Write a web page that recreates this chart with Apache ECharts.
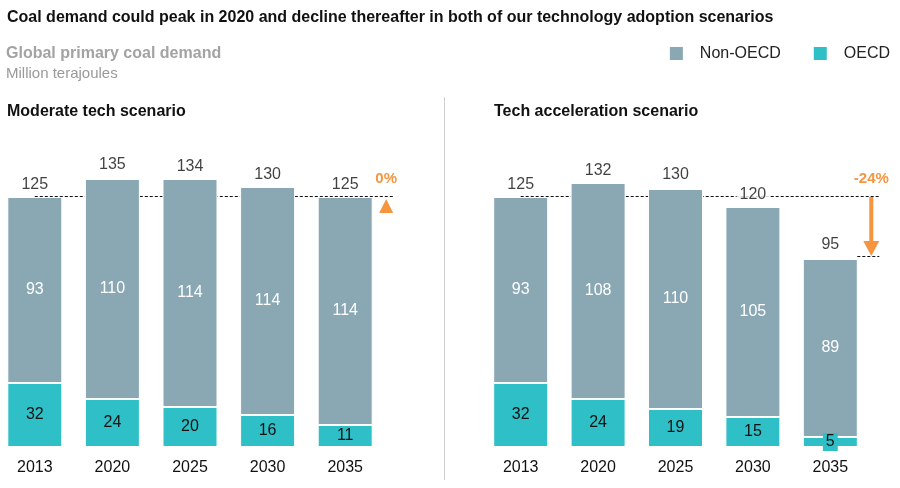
<!DOCTYPE html>
<html>
<head>
<meta charset="utf-8">
<script src="https://cdn.jsdelivr.net/npm/echarts@6/dist/echarts.min.js"></script>
<style>
  html, body { margin: 0; padding: 0; background: #fff; }
  #chartmain { width: 900px; height: 488px; }
</style>
</head>
<body>
<div id="chartmain"></div>
<script>
// data
const years = ['2013', '2020', '2025', '2030', '2035'];
const moderateNonOecd = [93, 110, 114, 114, 114];
const moderateOecd = [32, 24, 20, 16, 11];
const moderateTotal = [125, 135, 134, 130, 125];
const accelNonOecd = [93, 108, 110, 105, 89];
const accelOecd = [32, 24, 19, 15, 5];
const accelTotal = [125, 132, 130, 120, 95];
const changeLabels = ['0%', '-24%'];

{
    const FONT = '"Liberation Sans", Arial, sans-serif';
    const GREY = '#8aa8b3';
    const TEAL = '#2fbfc6';
    const ORANGE = '#f5953f';

    const dom = document.getElementById('chartmain');
    const chart = echarts.init(dom);

    function xAxis(gridIndex) {
        return {
            type: 'category',
            gridIndex: gridIndex,
            data: years,
            axisLine: { show: false },
            axisTick: { show: false },
            axisLabel: { color: '#111', fontSize: 16, fontFamily: FONT, margin: 13 }
        };
    }
    function yAxis(gridIndex) {
        return { type: 'value', gridIndex: gridIndex, min: 0, max: 150, show: false };
    }

    // 每个面板三个系列: OECD, Non-OECD, 合计标签
    function panel(idx, nonOecd, oecd, total) {
        return [
            {
                name: 'OECD',
                type: 'bar',
                stack: 'p' + idx,
                xAxisIndex: idx, yAxisIndex: idx,
                barWidth: 55,
                data: oecd,
                itemStyle: { color: TEAL, borderColor: '#fff', borderWidth: 1 },
                label: {
                    show: true, position: 'inside', color: '#111',
                    fontSize: 16, fontFamily: FONT,
                    backgroundColor: TEAL, padding: [1, 3]
                }
            },
            {
                name: 'Non-OECD',
                type: 'bar',
                stack: 'p' + idx,
                xAxisIndex: idx, yAxisIndex: idx,
                barWidth: 55,
                data: nonOecd,
                itemStyle: { color: GREY, borderColor: '#fff', borderWidth: 1 },
                label: {
                    show: true, position: 'inside', color: '#fff',
                    fontSize: 16, fontFamily: FONT
                }
            },
            {
                name: 'total' + idx,
                type: 'scatter',
                xAxisIndex: idx, yAxisIndex: idx,
                symbolSize: 1,
                itemStyle: { color: 'rgba(0,0,0,0)' },
                data: total,
                silent: true,
                label: {
                    show: true, position: 'top', distance: 4,
                    color: '#111', fontSize: 16, fontFamily: FONT,
                    backgroundColor: '#fff', padding: [0, 3]
                }
            }
        ];
    }

    const option = {
        animation: false,
        textStyle: { fontFamily: FONT },
        title: [
            {
                text: 'Coal demand could peak in 2020 and decline thereafter in both of our technology adoption scenarios',
                left: 2, top: 5,
                textStyle: { fontSize: 16, fontWeight: 'bold', color: '#111', fontFamily: FONT }
            },
            {
                text: 'Global primary coal demand',
                left: 1, top: 41,
                textStyle: { fontSize: 16, fontWeight: 'bold', color: '#a3a3a3', fontFamily: FONT }
            },
            {
                text: 'Million terajoules',
                left: 1, top: 61,
                textStyle: { fontSize: 15, fontWeight: 'normal', color: '#999', fontFamily: FONT }
            },
            {
                text: 'Moderate tech scenario',
                left: 2, top: 99,
                textStyle: { fontSize: 16, fontWeight: 'bold', color: '#111', fontFamily: FONT }
            },
            {
                text: 'Tech acceleration scenario',
                left: 489, top: 99,
                textStyle: { fontSize: 16, fontWeight: 'bold', color: '#111', fontFamily: FONT }
            }
        ],
        legend: {
            data: ['Non-OECD', 'OECD'],
            right: 5, top: 40,
            icon: 'rect',
            itemWidth: 15, itemHeight: 15,
            itemGap: 31,
            selectedMode: false,
            textStyle: { fontSize: 16, color: '#222', fontFamily: FONT, padding: [0, 0, 0, 11] }
        },
        grid: [
            { left: -4, width: 388, top: 147, bottom: 41, outerBoundsMode: 'none' },
            { left: 482, width: 387, top: 147, bottom: 41, outerBoundsMode: 'none' }
        ],
        xAxis: [xAxis(0), xAxis(1)],
        yAxis: [yAxis(0), yAxis(1)],
        series: [].concat(
            panel(0, moderateNonOecd, moderateOecd, moderateTotal),
            panel(1, accelNonOecd, accelOecd, accelTotal)
        )
    };

    chart.setOption(option);

    // 注释: 虚线基准线、百分比、箭头，由坐标换算得到
    function annotations() {
        const g = [];
        g.push({
            type: 'line', z: 0,
            shape: { x1: 444.5, y1: 97, x2: 444.5, y2: 480 },
            style: { stroke: '#cfcfcf', lineWidth: 1 }
        });
        const panels = [
            { series: 0, total: moderateTotal },
            { series: 3, total: accelTotal }
        ];
        panels.forEach(function (p, i) {
            const first = chart.convertToPixel({ seriesIndex: p.series }, [0, p.total[0]]);
            const last = chart.convertToPixel({ seriesIndex: p.series }, [4, p.total[4]]);
            const barRight = last[0] + 27;
            const endX = barRight + 22;
            const markX = barRight + 14;
            g.push({
                type: 'line', z: 0,
                shape: { x1: first[0], y1: first[1] - 0.5, x2: endX, y2: first[1] - 0.5 },
                style: { stroke: '#111', lineWidth: 1, lineDash: [3, 2] }
            });
            g.push({
                type: 'text', z: 10,
                x: markX, y: first[1] - 11,
                style: {
                    text: changeLabels[i], fill: ORANGE, fontSize: 15, fontWeight: 'bold',
                    fontFamily: FONT, align: 'center', verticalAlign: 'bottom'
                }
            });
            if (last[1] === first[1]) {
                g.push({
                    type: 'polygon', z: 10,
                    shape: { points: [[markX - 7, first[1] + 16], [markX + 7, first[1] + 16], [markX, first[1] + 2]] },
                    style: { fill: ORANGE }
                });
            } else {
                g.push({
                    type: 'line', z: 0,
                    shape: { x1: barRight, y1: last[1] - 0.5, x2: endX, y2: last[1] - 0.5 },
                    style: { stroke: '#111', lineWidth: 1, lineDash: [3, 2] }
                });
                g.push({
                    type: 'rect', z: 10,
                    shape: { x: markX - 2, y: first[1], width: 4, height: last[1] - first[1] - 14 },
                    style: { fill: ORANGE }
                });
                g.push({
                    type: 'polygon', z: 10,
                    shape: { points: [[markX - 8, last[1] - 16], [markX + 8, last[1] - 16], [markX, last[1] - 1]] },
                    style: { fill: ORANGE }
                });
            }
        });
        chart.setOption({ graphic: g });
    }

    annotations();
    window.addEventListener('resize', function () {
        chart.resize();
        annotations();
    });
}
</script>
</body>
</html>
